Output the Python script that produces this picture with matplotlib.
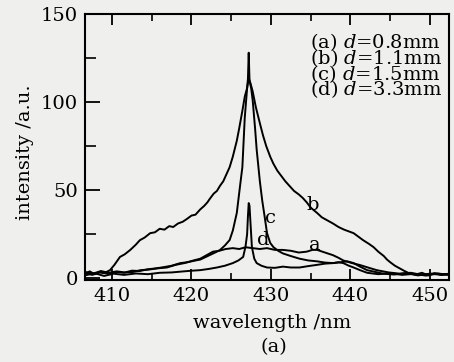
import matplotlib
matplotlib.use("Agg")
import matplotlib.pyplot as plt

# wavelength (nm) / intensity (a.u.)
b_x = [406.6, 407.2, 407.8, 408.4, 409.0, 409.75, 410.3, 411.0, 411.6, 412.3, 413.0, 413.5, 414.1, 414.8,
       415.4, 416.0, 416.6, 417.2, 417.7, 418.3, 418.9, 419.4, 420.0, 420.5, 421.1, 421.6, 422.0, 422.3,
       422.8, 423.2, 423.6, 424.0, 424.4, 424.8, 425.2, 425.7, 426.0, 426.4, 426.7, 427.0, 427.2, 427.4,
       427.7, 428.1, 428.6, 429.0, 429.4, 429.9, 430.3, 430.8, 431.3, 431.8, 432.4, 432.9, 433.5, 434.0,
       434.5, 435.0, 435.4, 435.8, 436.4, 437.0, 437.8, 438.5, 439.2, 439.8, 440.4, 441.0, 441.6, 442.3,
       442.9, 443.5, 444.2, 444.6, 445.0, 445.6, 446.2, 446.8, 447.5, 448.2, 449.0, 449.8, 450.6, 451.4, 452.4]
b_y = [2.5, 3.8, 2.2, 3.5, 2.8, 4.5, 7.5, 12, 13.5, 16, 19, 21.5, 23, 25.5,
       26, 28, 27.5, 29.5, 29, 31, 32, 33.5, 35.5, 36, 39, 41, 43, 45,
       48, 49.5, 52.5, 55, 59, 63, 69, 78, 85, 95, 103, 108, 113.6, 111,
       106, 97, 88, 81, 75, 69, 65, 61, 58, 55, 52, 49.5, 47.5, 45.5,
       43, 40, 38.5, 37, 34.5, 33, 31, 29, 27.5, 26.5, 25.5, 23.5, 21.5, 19.5,
       17.6, 15, 12.5, 10.5, 9, 7, 5.5, 4, 2.5, 2.0, 3.0, 1.5, 2.8, 1.8, 2.5]

c_x = [406.6, 407.5, 408.5, 409.5, 410.5, 411.5, 412.5, 413.5, 414.5, 415.5, 416.5, 417.5, 418.6, 419.5,
       420.3, 421.1, 421.8, 422.5, 423.2, 423.6, 424.2, 424.8, 425.2, 425.7, 426.1, 426.4, 426.7, 427.0,
       427.1, 427.2, 427.3, 427.5, 427.7, 428.0, 428.2, 428.6, 428.9, 429.2, 429.5, 429.9, 430.3, 430.9,
       431.5, 432.5, 433.6, 434.7, 435.8, 436.8, 437.8, 438.8, 439.6, 440.4, 441.2, 442.1, 443.1, 444.1,
       445.5, 447.0, 448.5, 450.0, 451.5, 452.4]
c_y = [3.0, 1.8, 3.2, 2.5, 3.5, 3.0, 4.2, 4.0, 5.0, 5.5, 6.2, 7.0, 8.5, 9.0,
       9.8, 10.5, 12, 13.5, 15, 16, 18.5, 21.6, 27, 37, 52, 63, 91, 108,
       113, 128, 112, 108, 101, 85, 73, 55, 44, 35, 25.6, 20, 17.6, 15.5,
       14, 12.5, 11, 10, 9.5, 8.8, 8.5, 9, 9.5, 8.5, 6.5, 4.5, 3.5, 2.5,
       2.0, 2.8, 1.5, 2.5, 1.8, 2.2]

a_x = [406.6, 407.6, 408.6, 409.6, 410.6, 411.6, 412.6, 413.6, 414.6, 415.7, 416.9, 418.0, 419.1, 420.1,
       421.1, 421.9, 422.7, 423.5, 424.3, 425.2, 426.0, 426.8, 427.7, 428.6, 429.5, 430.5, 431.5, 432.5,
       433.5, 434.5, 435.2, 435.8, 436.8, 437.8, 438.5, 439.1, 440.2, 441.2, 442.2, 443.3, 444.8, 446.2,
       447.6, 449.0, 450.5, 452.4]
a_y = [3.5, 2.5, 4.0, 3.0, 3.8, 3.2, 3.4, 4.5, 4.8, 5.5, 6.0, 7.5, 8.5, 9.8,
       11, 13, 15, 15.5, 16.5, 17, 16.5, 17.5, 17, 16.5, 17, 16, 16, 15.5,
       14.5, 15, 16, 16, 14.5, 13, 11.5, 10, 8.5, 7.4, 6, 4.5, 3.2, 2.5,
       3.0, 1.8, 2.6, 2.0]

d_x = [406.6, 407.8, 409.0, 410.2, 411.5, 413.0, 414.5, 416.0, 417.5, 419.0, 420.1, 421.1, 422.2, 423.2,
       424.2, 425.2, 425.9, 426.5, 426.8, 427.0, 427.1, 427.2, 427.3, 427.4, 427.6, 427.9, 428.2, 428.8,
       429.5, 430.5, 431.5, 432.5, 433.6, 434.7, 435.8, 436.8, 437.8, 438.5, 439.1, 439.8, 440.4, 441.2,
       442.1, 443.5, 445.0, 446.5, 448.0, 449.5, 451.0, 452.4]
d_y = [1.5, 2.8, 1.2, 2.5, 1.8, 2.6, 2.2, 3.0, 3.2, 3.8, 4.2, 4.5, 5.2, 6,
       7, 8.5, 10, 12, 18, 25, 35, 42.6, 41, 33, 17.6, 11, 8.5, 7,
       6, 5.8, 6.5, 6, 6, 6.8, 7.5, 8.2, 8.5, 9, 8.5, 7, 6, 4.5,
       3, 2.2, 2.8, 1.8, 2.4, 1.4, 2.6, 1.8]

legend_lines = ["(a) $d$=0.8mm", "(b) $d$=1.1mm", "(c) $d$=1.5mm", "(d) $d$=3.3mm"]
curve_tags = ["a", "b", "c", "d"]
tag_x = [435.5, 435.3, 429.9, 429.0]
tag_y = [18.8, 41.5, 34, 21.6]

plt.rcParams['font.family'] = ['DejaVu Serif']
plt.rcParams['mathtext.fontset'] = 'dejavuserif'
bg = '#efefed'
fs = 14

fig = plt.figure(figsize=(4.54, 3.62), dpi=100, facecolor=bg)
ax = fig.add_axes([85 / 454, 1 - 280 / 362, 364 / 454, 266 / 362], facecolor=bg)

for xs, ys in [(a_x, a_y), (b_x, b_y), (c_x, c_y), (d_x, d_y)]:
    ax.plot(xs, ys, color='black', lw=1.4)

ax.set_xlim(406.6, 452.4)
ax.set_ylim(-1.1, 150)
ax.set_xticks([410, 420, 430, 440, 450])
ax.set_xticks([415, 425, 435, 445], minor=True)
ax.set_yticks([0, 50, 100, 150])
ax.set_yticks([25, 75, 125], minor=True)
ax.tick_params(axis='x', which='major', direction='in', top=True, length=8, width=1.3,
               labelsize=fs, pad=5)
ax.tick_params(axis='x', which='minor', direction='in', top=True, length=5, width=1.2)
ax.tick_params(axis='y', which='major', direction='in', right=False, length=11, width=1.3,
               labelsize=fs, pad=5)
ax.tick_params(axis='y', which='minor', direction='in', right=False, length=8, width=1.2)
for s in ax.spines.values():
    s.set_linewidth(1.5)

# legend block as one multi-line text
ax.text(0.618, 0.935, "\n".join(legend_lines), transform=ax.transAxes, fontsize=fs,
        va='top', ha='left', linespacing=0.64)

for t, x, y in zip(curve_tags, tag_x, tag_y):
    ax.text(x, y, t, fontsize=fs, ha='center', va='center')

fig.text(272 / 454, 1 - 323 / 362, "wavelength /nm", ha='center', va='center', fontsize=fs)
fig.text(25 / 454, 1 - 152 / 362, "intensity /a.u.", ha='center', va='center', rotation=90,
         fontsize=fs)
fig.text(274 / 454, 1 - 347 / 362, "(a)", ha='center', va='center', fontsize=fs)

fig.savefig("out.png", dpi=100, facecolor=bg)
